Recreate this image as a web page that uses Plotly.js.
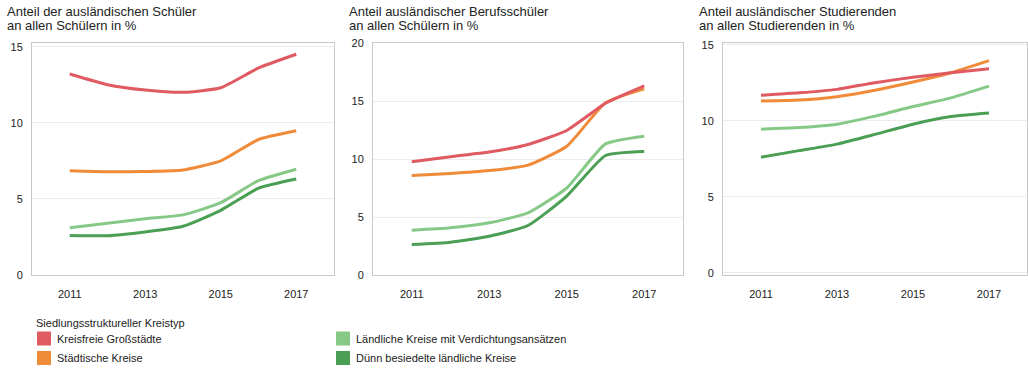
<!DOCTYPE html>
<html>
<head>
<meta charset="utf-8">
<script src="https://cdn.plot.ly/plotly-3.0.1.min.js"></script>
<style>html,body{margin:0;padding:0;background:#fff;}#chart{width:1028px;height:370px;}</style>
</head>
<body>
<div id="chart"></div>
<script>
const years = [2011, 2012, 2013, 2014, 2015, 2016, 2017];
const seriesNames = ["Kreisfreie Großstädte", "Städtische Kreise", "Ländliche Kreise mit Verdichtungsansätzen", "Dünn besiedelte ländliche Kreise"];
const seriesColors = ["#df5a61", "#f08b3a", "#86c987", "#4b9f55"];

// Panel 1: Anteil der ausländischen Schüler
const schueler_gross = [13.2, 12.5, 12.15, 12.0, 12.3, 13.6, 14.5];
const schueler_staedt = [6.84, 6.78, 6.8, 6.9, 7.5, 8.9, 9.47];
const schueler_laendl = [3.1, 3.4, 3.7, 3.95, 4.75, 6.2, 6.95];
const schueler_duenn = [2.6, 2.58, 2.83, 3.2, 4.25, 5.7, 6.3];

// Panel 2: Anteil ausländischer Berufsschüler
const beruf_gross = [9.76, 10.2, 10.6, 11.25, 12.46, 14.8, 16.3];
const beruf_staedt = [8.58, 8.75, 9.0, 9.47, 11.1, 14.85, 16.05];
const beruf_laendl = [3.86, 4.07, 4.5, 5.36, 7.5, 11.3, 11.97];
const beruf_duenn = [2.63, 2.83, 3.34, 4.27, 6.8, 10.3, 10.65];

// Panel 3: Anteil ausländischer Studierenden
const stud_gross = [11.67, 11.83, 12.06, 12.5, 12.86, 13.15, 13.41];
const stud_staedt = [11.3, 11.36, 11.58, 12.0, 12.54, 13.15, 13.95];
const stud_laendl = [9.44, 9.55, 9.77, 10.3, 10.93, 11.5, 12.27];
const stud_duenn = [7.6, 8.03, 8.46, 9.1, 9.77, 10.27, 10.5];

const panelTitles = [
  ["Anteil der ausländischen Schüler", "an allen Schülern in %"],
  ["Anteil ausländischer Berufsschüler", "an allen Schülern in %"],
  ["Anteil ausländischer Studierenden", "an allen Studierenden in %"]
];
const xTicks = [2011, 2013, 2015, 2017];
const yTicks1 = [0, 5, 10, 15];
const yTicks2 = [0, 5, 10, 15, 20];
const yTicks3 = [0, 5, 10, 15];
const legendTitle = "Siedlungsstruktureller Kreistyp";

const panels = [
  {data: [schueler_gross, schueler_staedt, schueler_laendl, schueler_duenn], xa: "x", ya: "y"},
  {data: [beruf_gross, beruf_staedt, beruf_laendl, beruf_duenn], xa: "x2", ya: "y2"},
  {data: [stud_gross, stud_staedt, stud_laendl, stud_duenn], xa: "x3", ya: "y3"}
];

const traces = [];
panels.forEach(p => {
  [3, 2, 1, 0].forEach(i => {
    traces.push({
      type: "scatter", mode: "lines", x: years, y: p.data[i],
      xaxis: p.xa, yaxis: p.ya,
      line: {color: seriesColors[i], width: 3, shape: "spline", smoothing: 0.5},
      showlegend: false, hoverinfo: "x+y", name: seriesNames[i]
    });
  });
});

const W = 1028, H = 370;
const px = v => v / W;
const py = v => 1 - v / H;
const yDom = [py(275), py(43)];
const FAM = "Liberation Sans, Arial, sans-serif";
const font = {family: FAM, size: 11, color: "#222"};

function xAxis(l, r, anchor) {
  return {domain: [px(l), px(r)], range: [2010, 2018], tickvals: xTicks, ticktext: xTicks.map(String), anchor: anchor,
    showgrid: false, zeroline: false, showline: true, mirror: true, linecolor: "#c9c9c9", linewidth: 1,
    ticks: "", ticklabelstandoff: 9, tickfont: {size: 11, color: "#222"}, fixedrange: true};
}
function yAxis(range, ticks, anchor) {
  return {domain: yDom, range: range, tickvals: ticks, ticktext: ticks.map(String), anchor: anchor,
    showgrid: true, gridcolor: "#ececec", gridwidth: 1, zeroline: false, showline: true, mirror: true,
    linecolor: "#c9c9c9", linewidth: 1, ticks: "", ticklabelstandoff: 6, tickfont: {size: 11, color: "#222"}, fixedrange: true};
}

const annotations = [];
const shapes = [];
const titleX = [5, 347, 697];
panelTitles.forEach((lines, i) => {
  lines.forEach((t, j) => annotations.push({
    text: t, xref: "paper", yref: "paper", x: px(titleX[i]), y: py(11 + j * 14.5), xanchor: "left", yanchor: "middle",
    align: "left", showarrow: false, font: {family: FAM, size: 13, color: "#222"}
  }));
});

// legend (drawn as shapes + text)
annotations.push({text: legendTitle, xref: "paper", yref: "paper", x: px(34), y: py(323), xanchor: "left", yanchor: "middle",
  showarrow: false, font: {family: FAM, size: 11, color: "#222"}});
const legPos = [[37, 338.5], [37, 358], [336, 338.5], [336, 358]];
seriesNames.forEach((n, i) => {
  const [lx, ly] = legPos[i];
  shapes.push({type: "rect", xref: "paper", yref: "paper", x0: px(lx), x1: px(lx + 14), y0: py(ly - 7), y1: py(ly + 7),
    fillcolor: seriesColors[i], line: {width: 0}});
  annotations.push({text: n, xref: "paper", yref: "paper", x: px(lx + 17.5), y: py(ly), xanchor: "left", yanchor: "middle",
    showarrow: false, font: {family: FAM, size: 11, color: "#222"}});
});

const layout = {
  width: W, height: H, margin: {l: 0, r: 0, t: 0, b: 0},
  paper_bgcolor: "#fff", plot_bgcolor: "#fff", font: font,
  xaxis: xAxis(32, 334, "y"), yaxis: yAxis([0, 15.24], yTicks1, "x"),
  xaxis2: xAxis(373, 683, "y2"), yaxis2: yAxis([0, 20], yTicks2, "x2"),
  xaxis3: xAxis(723, 1027, "y3"), yaxis3: yAxis([-0.15, 15.11], yTicks3, "x3"),
  annotations: annotations, shapes: shapes,
  showlegend: false
};

Plotly.newPlot("chart", traces, layout, {displayModeBar: false, staticPlot: true});
</script>
</body>
</html>
